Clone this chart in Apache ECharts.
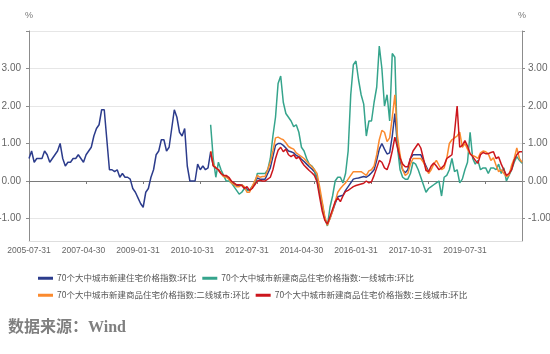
<!DOCTYPE html>
<html>
<head>
<meta charset="utf-8">
<script src="https://cdn.jsdelivr.net/npm/echarts@6/dist/echarts.min.js"></script>
<style>
  html, body { margin: 0; padding: 0; background: #fff; }
  #chart { width: 550px; height: 354px; }
</style>
</head>
<body>
<div id="chart"></div>
<script>
// month-end categories, 2005-07 .. 2021-05
const months = []
for (let y = 2005, m = 6; y < 2021 || (y === 2021 && m <= 4); m++) {
  if (m === 12) { m = 0; y++ }
  const d = new Date(y, m + 1, 0).getDate()
  months.push(y + '-' + String(m + 1).padStart(2, '0') + '-' + String(d).padStart(2, '0'))
}

const xTickLabels = ['2005-07-31', '2007-04-30', '2009-01-31', '2010-10-31', '2012-07-31',
  '2014-04-30', '2016-01-31', '2017-10-31', '2019-07-31']
const yTickLabels = [-1, 0, 1, 2, 3]
const yGridValues = [-1, 0, 1, 2, 3, 4]

const names = [
  '70个大中城市新建住宅价格指数:环比',
  '70个大中城市新建商品住宅价格指数:一线城市:环比',
  '70个大中城市新建商品住宅价格指数:二线城市:环比',
  '70个大中城市新建商品住宅价格指数:三线城市:环比',
]

// all cities, starts 2005-07
const allCities = [
  0.6, 0.8, 0.5, 0.6, 0.6, 0.6, 0.8, 0.7, 0.5, 0.6,
  0.7, 0.8, 1.0, 0.6, 0.4, 0.5, 0.5, 0.6, 0.6, 0.7,
  0.6, 0.5, 0.7, 0.8, 0.9, 1.2, 1.4, 1.5, 1.9, 1.9,
  1.1, 0.3, 0.3, 0.25, 0.3, 0.1, 0.2, 0.1, 0.1, 0.05,
  -0.2, -0.3, -0.45, -0.6, -0.7, -0.3, -0.2, 0.1, 0.3, 0.7,
  0.8, 1.1, 1.1, 0.8, 0.9, 1.4, 1.9, 1.7, 1.3, 1.2,
  1.4, 0.4, 0, 0, 0, 0.45, 0.3, 0.4, 0.3, 0.35,
  0.78, 0.42, 0.35, 0.3, 0.2, 0.13, 0.12, 0.07, -0.03, -0.08,
  -0.12, -0.12, -0.1, -0.17, -0.22, -0.25, -0.15, -0.05, 0.08, 0.05,
  0.05, 0.05, 0.2, 0.35, 0.65, 0.95, 1.0, 1.0, 0.95, 0.88,
  0.8, 0.78, 0.75, 0.68, 0.65, 0.58, 0.52, 0.45, 0.38, 0.32,
  0.25, 0.1, -0.3, -0.65, -1.0, -1.15, -1.0, -0.8, -0.6, -0.42,
  -0.4, -0.38, -0.25, -0.15, -0.05, 0.05, 0.07, 0.08, 0.1, 0.12,
  0.1, 0.15, 0.22, 0.3, 0.55, 0.85, 1.0, 0.85, 0.72, 0.75,
  1.2, 1.8, 0.95, 0.55, 0.3, 0.22, 0.3, 0.6, 0.7, 0.7,
  0.7, 0.7, 0.55, 0.4, 0.25,
]
const allCitiesStart = 0

// tier series, start at index 70
const tierStart = 70
const tier1 = [
  1.5, 0.6, 0.1, 0.5, 0.3, 0.15, 0.0, 0.0, -0.05, -0.15,
  -0.25, -0.35, -0.3, -0.2, -0.25, -0.25, -0.15, -0.1, 0.2, 0.2,
  0.2, 0.2, 0.3, 0.6, 1.2, 1.7, 2.6, 2.8, 2.1, 1.8,
  1.7, 1.6, 1.45, 1.5, 1.3, 0.9, 0.8, 0.6, 0.45, 0.4,
  0.3, 0.0, -0.3, -0.6, -1.0, -1.2, -0.7, -0.4, 0.0, 0.1,
  0.1, -0.05, 0.2, 0.8, 2.3, 3.1, 3.2, 2.7, 2.3, 2.05,
  1.2, 1.6, 1.6, 2.1, 2.5, 3.6, 3.0, 2.0, 2.3, 1.6,
  3.4, 3.3, 0.9, 0.3, 0.1, 0.05, 0.05, 0.2, 0.5, 0.45,
  0.3, 0.1, -0.1, -0.3, -0.2, -0.15, -0.1, -0.05, 0.0, -0.4,
  0.1, 0.15, 0.3, 0.6, 0.25, 0.3, -0.05, 0.05, 0.3, 0.5,
  1.3, 0.6, 0.45, 0.55, 0.3, 0.35, 0.35, 0.2, 0.35, 0.35,
  0.3, 0.45, 0.2, 0.35, 0.0, 0.15, 0.3, 0.5, 0.65, 0.55,
  0.47,
]
const tier2 = [
  0.8, 0.45, 0.35, 0.3, 0.2, 0.12, 0.1, 0.05, -0.05, -0.1,
  -0.15, -0.15, -0.1, -0.15, -0.3, -0.3, -0.15, 0.0, 0.15, 0.1,
  0.12, 0.12, 0.3, 0.5, 0.8, 1.15, 1.17, 1.13, 1.1, 1.02,
  0.92, 0.88, 0.85, 0.75, 0.7, 0.65, 0.6, 0.52, 0.45, 0.38,
  0.3, 0.2, -0.15, -0.55, -0.95, -1.18, -1.0, -0.8, -0.55, -0.3,
  -0.2, -0.12, -0.05, 0.05, 0.15, 0.25, 0.25, 0.25, 0.25, 0.2,
  0.15, 0.27, 0.3, 0.4, 0.7, 1.1, 1.35, 1.3, 1.05, 1.15,
  1.7, 2.3, 1.2, 0.7, 0.3, 0.15, 0.2, 0.45, 0.6, 0.6,
  0.6, 0.6, 0.5, 0.35, 0.2, 0.3, 0.45, 0.55, 0.42, 0.3,
  0.35, 0.6, 1.0, 1.1, 1.15, 1.2, 1.3, 0.9, 1.0, 0.85,
  0.72, 0.68, 0.65, 0.6, 0.75, 0.8, 0.78, 0.73, 0.55, 0.62,
  0.42, 0.25, 0.3, 0.2, 0.12, 0.15, 0.42, 0.6, 0.88, 0.6,
  0.5,
]
const tier3 = [
  0.78, 0.4, 0.35, 0.3, 0.2, 0.15, 0.15, 0.1, 0.0, -0.05,
  -0.1, -0.1, -0.12, -0.2, -0.15, -0.25, -0.2, -0.1, 0.0, 0.02,
  0.0, 0.0, 0.05, 0.1, 0.3, 0.6, 0.82, 0.9, 0.78, 0.85,
  0.7, 0.65, 0.7, 0.6, 0.64, 0.52, 0.42, 0.35, 0.28, 0.22,
  0.15, -0.02, -0.42, -0.8, -1.05, -1.15, -0.95, -0.75, -0.55, -0.45,
  -0.55, -0.4, -0.28, -0.25, -0.2, -0.15, -0.12, -0.1, -0.08, -0.06,
  0.0, -0.05, -0.02, 0.15, 0.35, 0.55, 0.5, 0.35, 0.3, 0.5,
  0.8, 1.17, 0.9, 0.62, 0.45, 0.38, 0.38, 0.6, 0.8, 0.9,
  1.0, 0.88, 0.6, 0.28, 0.25, 0.4, 0.48, 0.4, 0.3, 0.35,
  0.42, 0.6, 0.65, 0.7, 1.3, 2.0, 0.9, 0.95, 1.08, 0.93,
  0.73, 0.65, 0.55, 0.47, 0.7, 0.76, 0.73, 0.73, 0.76, 0.78,
  0.6, 0.64, 0.45, 0.3, 0.15, 0.2, 0.3, 0.56, 0.7, 0.78,
  0.78,
]

const colors = ['#2c3c8c', '#35a48c', '#fb8a2e', '#cc161c']
const axisGray = '#8c8c8c'
const labelGray = '#666'
const sansFont = "'Liberation Sans', 'Noto Sans CJK SC', sans-serif"

function toPairs(values, start) {
  return values.map((v, k) => [months[start + k], v])
}

function makeSeries(name, values, start, color) {
  return {
    name,
    type: 'line',
    data: toPairs(values, start),
    symbol: 'none',
    lineStyle: { width: 1.5, color },
    itemStyle: { color },
    emphasis: { disabled: true },
  }
}

function yAxisBase(position) {
  return {
    type: 'value',
    position,
    min: -1.6,
    max: 4,
    name: '%',
    nameLocation: 'end',
    nameGap: 11,
    nameTextStyle: { color: '#777', fontSize: 9, fontFamily: sansFont },
    axisLine: { show: true, lineStyle: { color: axisGray, width: 1 } },
    axisTick: { show: true, length: 3, customValues: yGridValues, lineStyle: { color: axisGray } },
    axisLabel: {
      customValues: yTickLabels,
      formatter: (v) => v.toFixed(2),
      color: labelGray,
      fontSize: 10,
      fontFamily: sansFont,
      margin: position === 'left' ? 8 : 6,
    },
    splitLine: { show: position === 'left', lineStyle: { color: '#e6e6e6', width: 1 } },
  }
}

function legendRow(data, top) {
  return {
    data,
    left: 38,
    top,
    padding: 0,
    itemWidth: 15,
    itemHeight: 3,
    itemGap: 6,
    icon: 'rect',
    selectedMode: false,
    textStyle: { fontSize: 8.5, color: '#555', fontFamily: "'Noto Sans CJK SC', sans-serif", padding: [0, 0, 0, -1] },
  }
}

const chart = echarts.init(document.getElementById('chart'))

chart.setOption({
  animation: false,
  color: colors,
  grid: { left: 29, right: 28, top: 31, bottom: 113, containLabel: false, outerBoundsMode: 'none' },
  legend: [
    legendRow([names[0], names[1]], 274),
    legendRow([names[2], names[3]], 291),
  ],
  xAxis: [
    {
      type: 'category',
      data: months,
      boundaryGap: false,
      axisLine: { show: true, onZero: false, lineStyle: { color: '#dedede' } },
      axisTick: { show: false },
      axisLabel: {
        interval: (idx, value) => xTickLabels.includes(value),
        color: labelGray,
        fontSize: 8.5,
        fontFamily: sansFont,
        margin: 5,
      },
      splitLine: { show: false },
    },
    {
      type: 'category',
      data: months,
      boundaryGap: false,
      position: 'bottom',
      axisLine: { show: true, onZero: true, lineStyle: { color: '#7a7a7a', width: 1.2 } },
      axisTick: { show: true, interval: (idx) => idx % 22 === 0, length: 3, lineStyle: { color: '#7a7a7a' } },
      axisLabel: { show: false },
      splitLine: { show: false },
    },
  ],
  yAxis: [yAxisBase('left'), yAxisBase('right')],
  series: [
    makeSeries(names[0], allCities, allCitiesStart, colors[0]),
    makeSeries(names[1], tier1, tierStart, colors[1]),
    makeSeries(names[2], tier2, tierStart, colors[2]),
    makeSeries(names[3], tier3, tierStart, colors[3]),
  ],
  graphic: [
    {
      type: 'text',
      left: 8,
      top: 320,
      style: {
        text: '数据来源：Wind',
        fill: '#7f7f7f',
        font: "bold 16px 'Liberation Serif', 'Noto Sans CJK SC', serif",
      },
    },
  ],
})

window.addEventListener('resize', () => chart.resize())
</script>
</body>
</html>
